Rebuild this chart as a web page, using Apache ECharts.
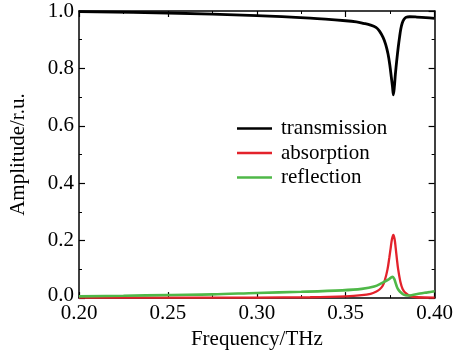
<!DOCTYPE html>
<html>
<head>
<meta charset="utf-8">
<script src="https://cdn.jsdelivr.net/npm/echarts@6/dist/echarts.min.js"></script>
<style>
  html, body { margin: 0; padding: 0; background: #fff; }
  #chart { width: 456px; height: 355px; }
</style>
</head>
<body>
<div id="chart"></div>
<script>
const seriesNames = ['transmission', 'absorption', 'reflection'];

const freqT = [0.20, 0.25, 0.30, 0.33, 0.35, 0.356, 0.36, 0.364, 0.367, 0.369, 0.371, 0.3725, 0.3738, 0.3748, 0.3756, 0.3763, 0.3768, 0.3773, 0.3779, 0.3787, 0.3795, 0.3803, 0.381, 0.3818, 0.3828, 0.384, 0.386, 0.39, 0.395, 0.40];
const transT = [0.998, 0.993, 0.984, 0.975, 0.966, 0.962, 0.957, 0.951, 0.943, 0.930, 0.908, 0.883, 0.850, 0.812, 0.772, 0.737, 0.708, 0.732, 0.778, 0.828, 0.872, 0.910, 0.938, 0.958, 0.971, 0.978, 0.980, 0.979, 0.977, 0.974];

const freqA = [0.20, 0.25, 0.30, 0.33, 0.35, 0.359, 0.364, 0.367, 0.369, 0.3708, 0.372, 0.3735, 0.3745, 0.3753, 0.376, 0.3768, 0.3775, 0.3781, 0.3788, 0.3795, 0.3808, 0.382, 0.3836, 0.3863, 0.39, 0.40];
const absA = [0.002, 0.002, 0.002, 0.003, 0.006, 0.010, 0.015, 0.022, 0.030, 0.043, 0.062, 0.100, 0.140, 0.175, 0.205, 0.220, 0.205, 0.175, 0.135, 0.100, 0.055, 0.032, 0.018, 0.007, 0.003, 0.002];

const freqR = [0.20, 0.225, 0.25, 0.275, 0.30, 0.325, 0.348, 0.359, 0.366, 0.3708, 0.3744, 0.3762, 0.3772, 0.3781, 0.379, 0.380, 0.3815, 0.3826, 0.3845, 0.387, 0.3918, 0.396, 0.40];
const reflR = [0.006, 0.008, 0.011, 0.013, 0.018, 0.022, 0.027, 0.032, 0.040, 0.054, 0.066, 0.074, 0.068, 0.052, 0.036, 0.026, 0.017, 0.012, 0.009, 0.010, 0.016, 0.020, 0.024];

const colors = ['#000000', '#e3222b', '#4fb848'];
const font = 'Liberation Serif';

const pair = (xs, ys) => xs.map((x, i) => [x, ys[i]]);

const chart = echarts.init(document.getElementById('chart'));

const frame = { show: true, onZero: false, lineStyle: { color: '#000', width: 1.5 } };
const ticks = { show: true, inside: true, length: 6, lineStyle: { color: '#000', width: 1.2 } };
const minor = { show: true, splitNumber: 2, length: 3, lineStyle: { color: '#000', width: 1 } };

chart.setOption({
    animation: false,
    backgroundColor: '#fff',
    textStyle: { fontFamily: font },
    grid: { left: 70, right: 21, top: 11, bottom: 49 },
    legend: {
        left: 232,
        top: 113,
        orient: 'vertical',
        icon: 'rect',
        itemWidth: 35,
        itemHeight: 2.5,
        itemGap: 3.5,
        data: seriesNames,
        textStyle: { fontFamily: font, fontSize: 21, color: '#000', lineHeight: 21, padding: [0, 0, 0, 4] }
    },
    xAxis: [{
        type: 'value',
        min: 0.2,
        max: 0.4,
        interval: 0.05,
        name: 'Frequency/THz',
        nameLocation: 'middle',
        nameGap: 28,
        nameTextStyle: { fontFamily: font, fontSize: 21, color: '#000' },
        axisLine: frame,
        axisTick: ticks,
        minorTick: minor,
        splitLine: { show: false },
        axisLabel: { color: '#000', fontFamily: font, fontSize: 21, margin: 5, formatter: v => v.toFixed(2) }
    }, {
        type: 'value',
        position: 'top',
        min: 0.2,
        max: 0.4,
        interval: 0.05,
        axisLine: frame,
        axisTick: ticks,
        minorTick: minor,
        splitLine: { show: false },
        axisLabel: { show: false }
    }],
    yAxis: [{
        type: 'value',
        min: 0,
        max: 1,
        interval: 0.2,
        name: 'Amplitude/r.u.',
        nameLocation: 'middle',
        nameGap: 50,
        nameTextStyle: { fontFamily: font, fontSize: 21, color: '#000' },
        axisLine: frame,
        axisTick: ticks,
        minorTick: minor,
        splitLine: { show: false },
        axisLabel: {
            color: '#000', fontFamily: font, fontSize: 21, margin: 5,
            formatter: v => v === 0 ? '{low|0.0}' : v.toFixed(1),
            rich: { low: { fontFamily: font, fontSize: 21, color: '#000', padding: [0, 0, 6, 0] } }
        }
    }, {
        type: 'value',
        position: 'right',
        min: 0,
        max: 1,
        interval: 0.2,
        axisLine: frame,
        axisTick: ticks,
        minorTick: minor,
        splitLine: { show: false },
        axisLabel: { show: false }
    }],
    series: [
        { name: seriesNames[0], data: pair(freqT, transT), width: 2.8 },
        { name: seriesNames[1], data: pair(freqA, absA), width: 2.3 },
        { name: seriesNames[2], data: pair(freqR, reflR), width: 2.6 }
    ].map((s, i) => ({
        name: s.name,
        type: 'line',
        data: s.data,
        smooth: 0.35,
        showSymbol: false,
        clip: false,
        color: colors[i],
        lineStyle: { color: colors[i], width: s.width }
    }))
});
</script>
</body>
</html>
